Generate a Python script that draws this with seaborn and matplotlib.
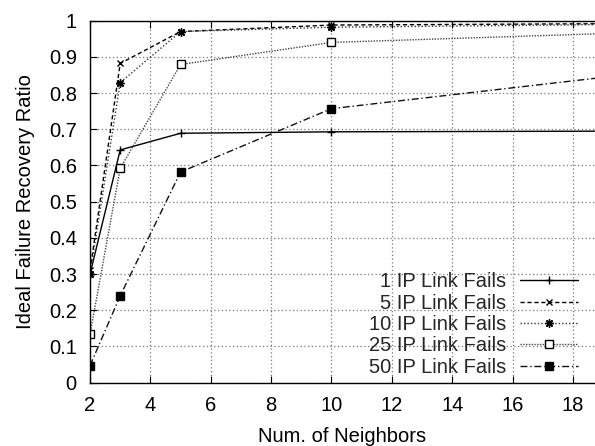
import matplotlib
matplotlib.use("Agg")
import matplotlib.pyplot as plt
import seaborn as sns
import numpy as np
from matplotlib.ticker import FuncFormatter, MultipleLocator

neighbors = [2, 3, 5, 10, 20]
fails_1 = [0.30, 0.643, 0.689, 0.693, 0.695]
fails_5 = [0.31, 0.882, 0.970, 0.988, 0.992]
fails_10 = [0.30, 0.829, 0.970, 0.982, 0.990]
fails_25 = [0.134, 0.592, 0.879, 0.940, 0.967]
fails_50 = [0.047, 0.240, 0.582, 0.757, 0.853]
labels = ["1 IP Link Fails", "5 IP Link Fails", "10 IP Link Fails",
          "25 IP Link Fails", "50 IP Link Fails"]

sns.set_theme(style="white")
plt.rcParams['font.family'] = ['Liberation Sans', 'DejaVu Sans']
FS = 14.5

fig = plt.figure(figsize=(5.95, 4.46), dpi=100)
ax = fig.add_axes([0.1513, 0.142, 1 - 0.1513, 0.9536 - 0.142])

series = [fails_1, fails_5, fails_10, fails_25, fails_50]
styles = [
    dict(color="#000000", linestyle="-", marker="+", markersize=6, mfc="none", mec="#000000", mew=1.0),
    dict(color="#000000", linestyle=(0, (3, 2)), marker="x", markersize=5, mfc="none", mec="#000000", mew=1.0),
    dict(color="#333333", linestyle=(0, (1, 1.5)), marker=(8, 2, 0), markersize=6, mfc="none", mec="#000000", mew=1.0),
    dict(color="#444444", linestyle=(0, (1, 1)), marker="s", markersize=6, mfc="white", mec="#000000", mew=1.0),
    dict(color="#111111", linestyle=(0, (5, 2, 1, 2)), marker="s", markersize=6, mfc="#000000", mec="#000000", mew=1.0),
]
for vals, lab, st in zip(series, labels, styles):
    sns.lineplot(x=neighbors, y=vals, ax=ax, label=lab, linewidth=1.0, **st)

ax.set_xlim(2, 18.73)
ax.set_ylim(0, 1)
ax.xaxis.set_major_locator(MultipleLocator(2))
ax.yaxis.set_major_locator(MultipleLocator(0.1))
ax.yaxis.set_major_formatter(FuncFormatter(lambda v, p: "%g" % round(v, 2)))

ax.grid(True, color="#777777", linestyle=(0, (1, 2)), linewidth=0.9)
for s in ["left", "bottom", "top"]:
    ax.spines[s].set_visible(True)
    ax.spines[s].set_color("black")
    ax.spines[s].set_linewidth(1.0)
ax.spines["right"].set_visible(False)
ax.tick_params(axis="both", direction="in", length=5, width=0.8, color="black",
               labelsize=FS, top=True, bottom=True, left=True, right=False,
               labelcolor="black")
ax.tick_params(axis="y", pad=9.5)
ax.tick_params(axis="x", pad=9.5)

ax.set_xlabel("Num. of Neighbors", fontsize=FS, color="black", labelpad=9)
ax.set_ylabel("Ideal Failure Recovery Ratio", fontsize=FS, color="black", labelpad=10)

leg = ax.legend(loc="lower right", bbox_to_anchor=(0.9663, 0.016), markerfirst=False,
                frameon=False, fontsize=FS, handlelength=2.9, handletextpad=0.65,
                labelspacing=0.12, borderaxespad=0.0, borderpad=0.0)

fig.savefig("out.png", dpi=100)
